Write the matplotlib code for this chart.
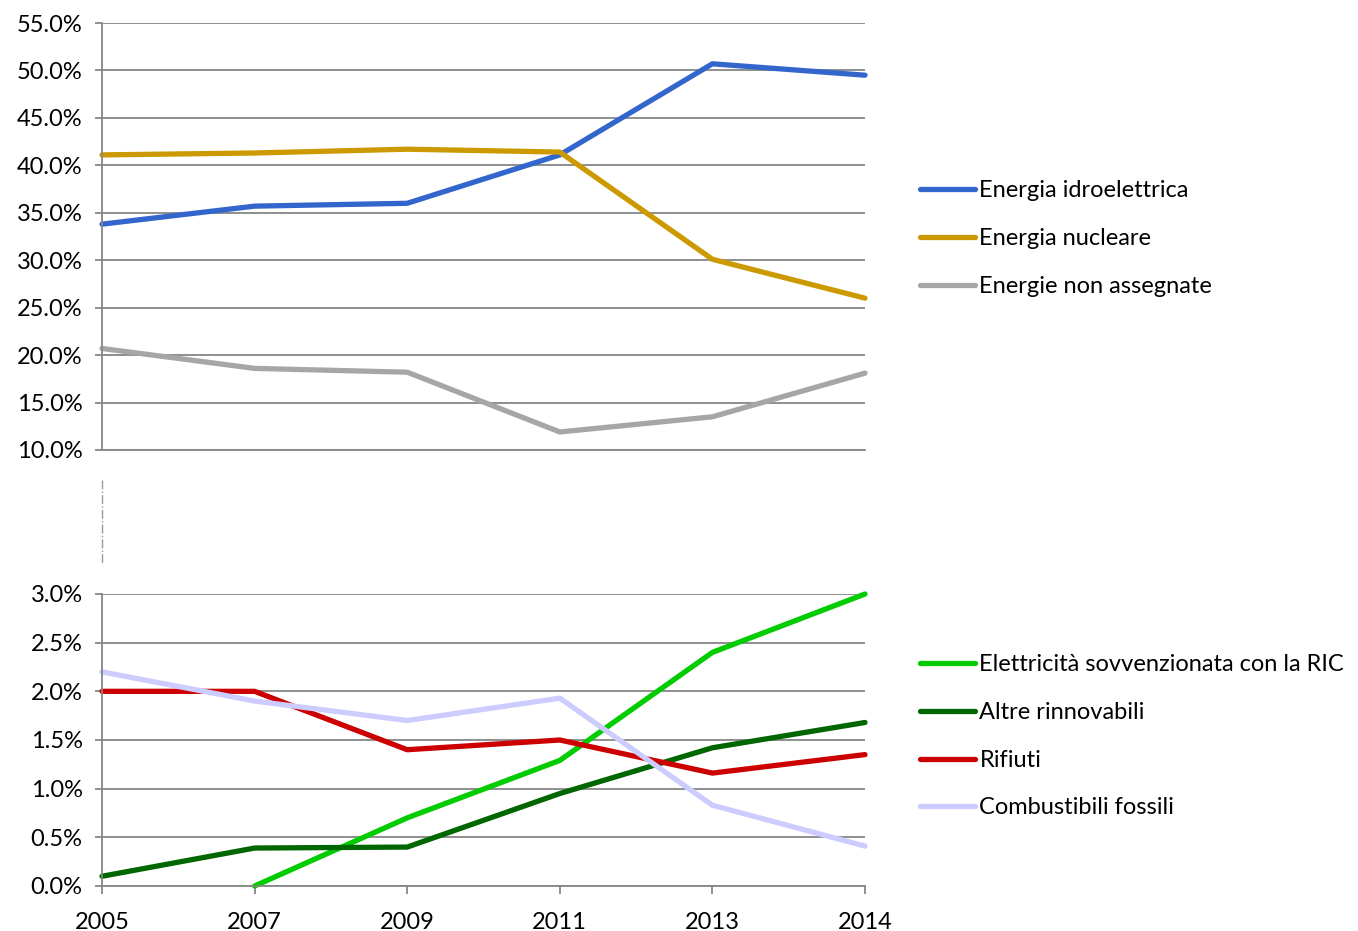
import matplotlib
matplotlib.use('Agg')
import matplotlib.pyplot as plt
from matplotlib.ticker import FuncFormatter

# --- Data ---
YEARS = ['2005', '2007', '2009', '2011', '2013', '2014']

IDRO = [33.8, 35.7, 36.0, 41.1, 50.7, 49.5]
NUCLEARE = [41.1, 41.3, 41.7, 41.4, 30.1, 26.0]
NON_ASSEGNATE = [20.7, 18.6, 18.2, 11.9, 13.5, 18.1]

RIC = [None, 0.0, 0.70, 1.29, 2.40, 3.00]
ALTRE_RINNOVABILI = [0.10, 0.39, 0.40, 0.95, 1.42, 1.68]
RIFIUTI = [2.00, 2.00, 1.40, 1.50, 1.16, 1.35]
FOSSILI = [2.20, 1.90, 1.70, 1.93, 0.83, 0.41]

TOP_SERIES = [
    ('Energia idroelettrica', IDRO, '#3366cc'),
    ('Energia nucleare', NUCLEARE, '#cc9900'),
    ('Energie non assegnate', NON_ASSEGNATE, '#a6a6a6'),
]
BOTTOM_SERIES = [
    ('Elettricità sovvenzionata con la RIC', RIC, '#00cc00'),
    ('Altre rinnovabili', ALTRE_RINNOVABILI, '#006600'),
    ('Rifiuti', RIFIUTI, '#cc0000'),
    ('Combustibili fossili', FOSSILI, '#ccccff'),
]

GRID = '#868686'
W, H = 1358, 931
FONT_SIZE = 17

plt.rcParams['font.family'] = ['Lato', 'DejaVu Sans']
plt.rcParams['font.size'] = FONT_SIZE


def px_axes(fig, left, top, right, bottom):
    """Add axes using pixel coordinates of the reference."""
    return fig.add_axes([left / W, (H - bottom) / H, (right - left) / W, (bottom - top) / H])


def style_axes(ax, ymin, ymax, step):
    ax.set_xlim(0, len(YEARS) - 1)
    ax.set_ylim(ymin, ymax)
    n = int(round((ymax - ymin) / step))
    ax.set_yticks([ymin + i * step for i in range(n + 1)])
    ax.yaxis.set_major_formatter(FuncFormatter(lambda v, _: f'{v:.1f}%'))
    ax.grid(axis='y', color=GRID, linewidth=1.3)
    ax.set_axisbelow(True)
    for side in ['top', 'right']:
        ax.spines[side].set_visible(False)
    for side in ['left', 'bottom']:
        ax.spines[side].set_color(GRID)
        ax.spines[side].set_linewidth(1.3)
    ax.tick_params(axis='y', length=5, color=GRID, width=1.3, pad=9)
    ax.tick_params(axis='x', length=6, color=GRID, width=1.3, direction='out', pad=13)
    ax.set_xticks(range(len(YEARS)))


fig = plt.figure(figsize=(W / 100, H / 100), dpi=100)
x = list(range(len(YEARS)))

ax_top = px_axes(fig, 102, 23, 865, 450)
style_axes(ax_top, 10, 55, 5)
ax_top.set_xticklabels([])
ax_top.tick_params(axis='x', length=0)
for label, values, color in TOP_SERIES:
    ax_top.plot(x, values, color=color, linewidth=3.8, label=label, solid_capstyle='round')

ax_bot = px_axes(fig, 102, 594, 865, 886)
style_axes(ax_bot, 0, 3, 0.5)
ax_bot.set_xticklabels(YEARS)
for label, values, color in BOTTOM_SERIES:
    xs = [i for i, v in zip(x, values) if v is not None]
    ys = [v for v in values if v is not None]
    ax_bot.plot(xs, ys, color=color, linewidth=3.8, label=label, solid_capstyle='round')

for ax in (ax_top, ax_bot):
    for line in ax.get_lines():
        line.set_clip_on(False)

# axis break marker between the two panels
fig.add_artist(plt.Line2D([102 / W, 102 / W], [(H - 480) / H, (H - 565) / H],
                          color='#999999', linewidth=1, linestyle='-.'))

leg_kw = dict(frameon=False, handlelength=2.3, handletextpad=0.2,
              labelspacing=1.13, borderaxespad=0, fontsize=FONT_SIZE)
fig.legend(*ax_top.get_legend_handles_labels(), loc='upper left',
           bbox_to_anchor=(911 / W, (H - 171) / H), **leg_kw)
fig.legend(*ax_bot.get_legend_handles_labels(), loc='upper left',
           bbox_to_anchor=(911 / W, (H - 645) / H), **leg_kw)

fig.savefig('out.png', dpi=100)
